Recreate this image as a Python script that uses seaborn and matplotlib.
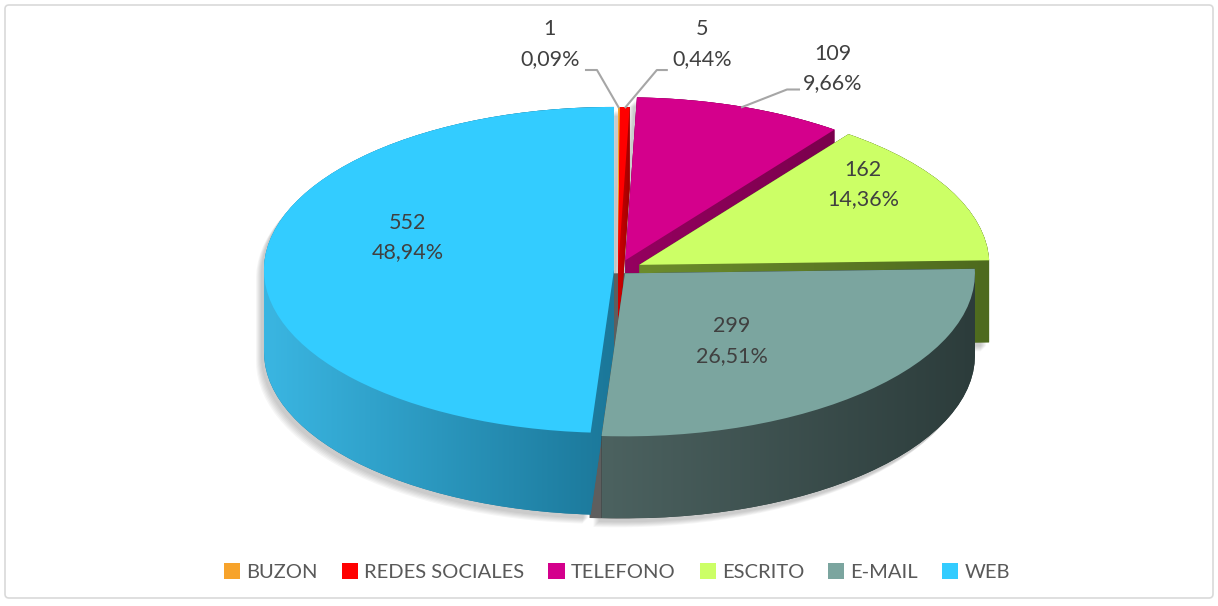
import numpy as np
import matplotlib
matplotlib.use("Agg")
import matplotlib.pyplot as plt
import seaborn as sns
from matplotlib.colors import LinearSegmentedColormap
from matplotlib.patches import Polygon, FancyBboxPatch, Rectangle

# ---------------- data ----------------
categories = ["BUZON", "REDES SOCIALES", "TELEFONO", "ESCRITO", "E-MAIL", "WEB"]
counts = [1, 5, 109, 162, 299, 552]
pct_labels = ["0,09%", "0,44%", "9,66%", "14,36%", "26,51%", "48,94%"]

top_colors = ["#F7A32B", "#FF0000", "#D4008C", "#CCFF66", "#7BA59F", "#33CCFF"]
side_light = ["#E08A1A", "#D00000", "#95005F", "#6C8C2C", "#4C6260", "#3AB6E2"]
side_dark = ["#C07010", "#A00000", "#7A004D", "#4E6A1E", "#2C3C3B", "#1B7799"]
explode = [0, 0, 22, 24, 10, 4]

# ---------------- style ----------------
sns.set_theme(style="white")
plt.rcParams['font.family'] = ['Lato', 'DejaVu Sans']
TXT = "#404040"

W, H = 1218, 606
fig = plt.figure(figsize=(W / 100, H / 100), dpi=100)
ax = fig.add_axes([0, 0, 1, 1])

A, B = 350, 163          # semi-axes of the top ellipse in pixels
CX, CY = 618, 270        # pixel centre of the top face
T = 82                   # thickness in pixels
k = A / B


def to_data(px, py):
    return px, (CY - py) * k


def to_px(x, y):
    return x, CY - y / k


def pie_at(offset_px):
    wedges, _ = ax.pie(counts, colors=top_colors, startangle=90, counterclock=False,
                       radius=A, center=(CX, -offset_px * k), explode=explode,
                       wedgeprops=dict(linewidth=0))
    return wedges


def poly_pts(w):
    return np.vstack(w.get_path().to_polygons())


def hull(pts):
    pts = sorted(set(map(tuple, np.round(pts, 3))))
    if len(pts) < 3:
        return np.array(pts)

    def cross(o, a, b):
        return (a[0] - o[0]) * (b[1] - o[1]) - (a[1] - o[1]) * (b[0] - o[0])
    lower, upper = [], []
    for p in pts:
        while len(lower) >= 2 and cross(lower[-2], lower[-1], p) <= 0:
            lower.pop()
        lower.append(p)
    for p in reversed(pts):
        while len(upper) >= 2 and cross(upper[-2], upper[-1], p) <= 0:
            upper.pop()
        upper.append(p)
    return np.array(lower[:-1] + upper[:-1])


bottom = pie_at(T)
top = pie_at(0)
for w in bottom:
    w.set_visible(False)

hulls = [hull(np.vstack([poly_pts(b), poly_pts(t)])) for b, t in zip(bottom, top)]

# soft shadow
for hp in hulls:
    for s in range(6):
        sh = hp + np.array([-3 - s, -(4 + s) * k])
        ax.add_patch(Polygon(sh, closed=True, facecolor="black", edgecolor="none",
                             alpha=0.035, zorder=1))

# cut face of the E-MAIL slice, seen in the gap next to WEB
ax.add_patch(Polygon(hulls[4] + np.array([-12, 0]), closed=True, facecolor="#5E5E5E",
                     edgecolor="none", zorder=1.9))

# sides with horizontal gradient, ordered back to front
order = sorted(range(len(counts)), key=lambda i: -poly_pts(bottom[i])[:, 1].min())
for z, i in enumerate(order):
    hp = hulls[i]
    poly = Polygon(hp, closed=True, facecolor=side_dark[i], edgecolor="none", zorder=2 + z * 0.1)
    ax.add_patch(poly)
    cmap = LinearSegmentedColormap.from_list("g%d" % i, [side_light[i], side_dark[i]])
    x0, x1 = hp[:, 0].min(), hp[:, 0].max()
    y0, y1 = hp[:, 1].min(), hp[:, 1].max()
    im = ax.imshow(np.linspace(0, 1, 256)[None, :], cmap=cmap, extent=(x0, x1, y0, y1),
                   aspect="auto", zorder=2 + z * 0.1 + 0.05, interpolation="bilinear")
    im.set_clip_path(poly)

for w in top:
    w.set_zorder(10)

# ---------------- labels ----------------
fs = 15.5
LS = 1.6
# (fraction of radius along mid-angle, vertical nudge in pixels)
inner_pos = {3: (0.72, -26), 4: (0.44, 16), 5: (0.59, -29)}
for i, (f, nudge) in inner_pos.items():
    w = top[i]
    mid = np.deg2rad((w.theta1 + w.theta2) / 2)
    wx, wy = w.center
    px, py = to_px(wx + f * w.r * np.cos(mid), wy + f * w.r * np.sin(mid))
    tx, ty = to_data(px, py + nudge)
    ax.text(tx, ty, f"{counts[i]}\n{pct_labels[i]}", ha="center", va="center",
            fontsize=fs, color=TXT, linespacing=LS, zorder=20)

# outside labels with leader lines (offsets in pixels)
outside = {0: ((-69, -63), (-22, -37), -12),
           1: ((77, -63), (32, -37), 11),
           2: ((92, -38), (46, -17), 13)}
for i, ((tdx, tdy), (edx, edy), hlen) in outside.items():
    w = top[i]
    mid = np.deg2rad((w.theta1 + w.theta2) / 2)
    wx, wy = w.center
    apx, apy = to_px(wx + w.r * np.cos(mid), wy + w.r * np.sin(mid))
    ex, ey = apx + edx, apy + edy
    xs = [apx, ex, ex + hlen]
    ys = [apy + 1, ey, ey]
    ax.plot(xs, [to_data(0, y)[1] for y in ys], color="#A6A6A6", lw=1.5, zorder=15,
            solid_capstyle="butt")
    tx, ty = to_data(apx + tdx, apy + tdy)
    ax.text(tx, ty, f"{counts[i]}\n{pct_labels[i]}", ha="center", va="center",
            fontsize=fs, color=TXT, linespacing=LS, zorder=20)

ax.set_xlim(0, W)
ax.set_ylim((CY - H) * k, CY * k)
ax.set_aspect("auto")
ax.axis("off")

# chart border
fig.patches.append(FancyBboxPatch((5, 8), W - 10, H - 13, boxstyle="round,pad=0,rounding_size=4",
                                  transform=None, facecolor="none", edgecolor="#D9D9D9", lw=1.2))

# legend
handles = [Rectangle((0, 0), 1, 1, facecolor=c, edgecolor="none") for c in top_colors]
leg = fig.legend(handles, categories, loc="center", bbox_to_anchor=(617 / W, 1 - 572 / H),
                 ncol=6, frameon=False, fontsize=14.5, handlelength=0.8, handleheight=0.8,
                 handletextpad=0.3, columnspacing=1.2)
for t in leg.get_texts():
    t.set_color("#595959")

fig.savefig("out.png", dpi=100)
